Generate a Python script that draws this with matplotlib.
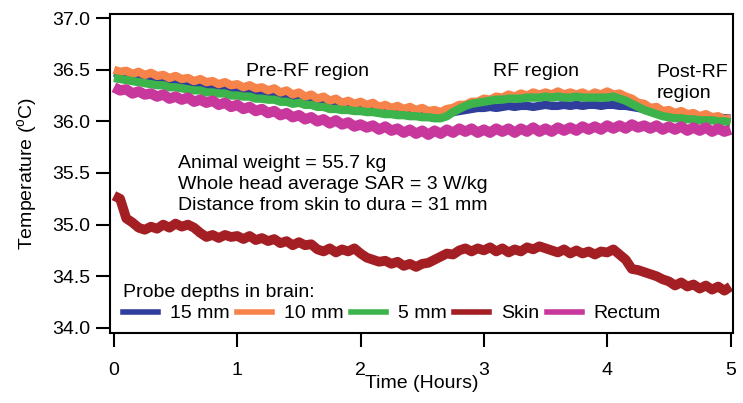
import numpy as np
import matplotlib
matplotlib.use("Agg")
import matplotlib.pyplot as plt

plt.rcParams['font.family'] = ['Liberation Sans', 'DejaVu Sans']
plt.rcParams['mathtext.fontset'] = 'custom'
plt.rcParams['mathtext.rm'] = 'Liberation Sans'
plt.rcParams['mathtext.it'] = 'Liberation Sans'
plt.rcParams['font.size'] = 14

# Time (hours), 0.05 h steps
time_h = [i * 0.05 for i in range(101)]

probe_15mm = [36.47, 36.46, 36.45, 36.45, 36.44, 36.43, 36.43, 36.41, 36.41, 36.40,
              36.40, 36.38, 36.38, 36.37, 36.37, 36.35, 36.35, 36.34, 36.34, 36.32,
              36.32, 36.31, 36.31, 36.29, 36.29, 36.28, 36.27, 36.26, 36.26, 36.24,
              36.24, 36.22, 36.22, 36.20, 36.20, 36.18, 36.18, 36.16, 36.16, 36.15,
              36.15, 36.14, 36.14, 36.12, 36.12, 36.11, 36.11, 36.10, 36.10, 36.09,
              36.09, 36.08, 36.07, 36.06, 36.07, 36.09, 36.10, 36.11, 36.12, 36.13,
              36.13, 36.14, 36.13, 36.14, 36.15, 36.14, 36.15, 36.15, 36.14, 36.15,
              36.16, 36.15, 36.15, 36.16, 36.15, 36.16, 36.15, 36.16, 36.16, 36.15,
              36.16, 36.16, 36.15, 36.15, 36.14, 36.13, 36.12, 36.11, 36.10, 36.09,
              36.08, 36.08, 36.07, 36.06, 36.06, 36.05, 36.05, 36.04, 36.04, 36.03,
              36.03]

probe_10mm = [36.50, 36.48, 36.49, 36.46, 36.48, 36.45, 36.47, 36.44, 36.45, 36.42,
              36.44, 36.41, 36.42, 36.39, 36.41, 36.38, 36.39, 36.36, 36.38, 36.35,
              36.36, 36.33, 36.35, 36.32, 36.33, 36.30, 36.32, 36.28, 36.30, 36.26,
              36.28, 36.24, 36.26, 36.22, 36.24, 36.20, 36.22, 36.18, 36.20, 36.17,
              36.19, 36.16, 36.18, 36.14, 36.16, 36.13, 36.15, 36.12, 36.14, 36.11,
              36.13, 36.10, 36.11, 36.09, 36.12, 36.13, 36.16, 36.16, 36.19, 36.19,
              36.22, 36.21, 36.24, 36.23, 36.26, 36.24, 36.27, 36.25, 36.28, 36.26,
              36.28, 36.26, 36.29, 36.26, 36.28, 36.26, 36.28, 36.25, 36.28, 36.26,
              36.29, 36.26, 36.27, 36.24, 36.22, 36.18, 36.17, 36.13, 36.14, 36.10,
              36.11, 36.08, 36.10, 36.07, 36.08, 36.05, 36.07, 36.04, 36.05, 36.02,
              36.03]

probe_5mm = [36.42, 36.41, 36.40, 36.39, 36.38, 36.37, 36.36, 36.35, 36.35, 36.33,
             36.33, 36.32, 36.31, 36.30, 36.30, 36.28, 36.28, 36.27, 36.27, 36.25,
             36.25, 36.24, 36.24, 36.22, 36.22, 36.21, 36.21, 36.19, 36.19, 36.17,
             36.18, 36.16, 36.16, 36.14, 36.14, 36.12, 36.12, 36.11, 36.11, 36.10,
             36.10, 36.09, 36.09, 36.08, 36.07, 36.07, 36.06, 36.06, 36.05, 36.05,
             36.04, 36.04, 36.03, 36.03, 36.05, 36.09, 36.12, 36.15, 36.17, 36.18,
             36.19, 36.20, 36.21, 36.21, 36.22, 36.22, 36.22, 36.23, 36.23, 36.23,
             36.24, 36.23, 36.24, 36.23, 36.23, 36.24, 36.23, 36.23, 36.23, 36.23,
             36.23, 36.24, 36.22, 36.20, 36.17, 36.14, 36.11, 36.09, 36.07, 36.05,
             36.04, 36.03, 36.03, 36.02, 36.02, 36.01, 36.01, 36.01, 36.00, 36.00,
             35.99]

skin = [35.28, 35.25, 35.06, 35.02, 34.97, 34.95, 34.98, 34.96, 35.00, 34.97,
        35.01, 34.98, 35.00, 34.97, 34.92, 34.88, 34.90, 34.87, 34.90, 34.88,
        34.89, 34.86, 34.89, 34.85, 34.87, 34.84, 34.86, 34.82, 34.84, 34.80,
        34.83, 34.80, 34.81, 34.76, 34.74, 34.77, 34.73, 34.76, 34.74, 34.77,
        34.72, 34.68, 34.66, 34.64, 34.65, 34.62, 34.64, 34.60, 34.62, 34.59,
        34.62, 34.63, 34.66, 34.69, 34.72, 34.71, 34.75, 34.77, 34.74, 34.77,
        34.75, 34.78, 34.74, 34.77, 34.73, 34.76, 34.74, 34.78, 34.76, 34.79,
        34.77, 34.75, 34.73, 34.76, 34.72, 34.75, 34.72, 34.74, 34.71, 34.74,
        34.73, 34.76, 34.71, 34.66, 34.57, 34.56, 34.54, 34.52, 34.50, 34.47,
        34.45, 34.41, 34.44, 34.40, 34.42, 34.38, 34.41, 34.37, 34.40, 34.36,
        34.40]

rectum = [36.33, 36.30, 36.31, 36.27, 36.29, 36.26, 36.27, 36.24, 36.26, 36.22,
          36.24, 36.21, 36.23, 36.19, 36.21, 36.18, 36.20, 36.16, 36.18, 36.14,
          36.16, 36.12, 36.14, 36.10, 36.12, 36.08, 36.10, 36.06, 36.08, 36.04,
          36.06, 36.02, 36.04, 36.00, 36.02, 35.98, 36.01, 35.97, 35.99, 35.95,
          35.97, 35.94, 35.96, 35.92, 35.95, 35.91, 35.93, 35.89, 35.92, 35.88,
          35.91, 35.87, 35.91, 35.88, 35.92, 35.89, 35.93, 35.90, 35.93, 35.89,
          35.92, 35.89, 35.93, 35.90, 35.93, 35.89, 35.93, 35.90, 35.94, 35.90,
          35.93, 35.90, 35.94, 35.91, 35.94, 35.91, 35.95, 35.92, 35.95, 35.92,
          35.96, 35.93, 35.96, 35.93, 35.97, 35.94, 35.96, 35.93, 35.96, 35.92,
          35.95, 35.92, 35.95, 35.91, 35.94, 35.91, 35.94, 35.90, 35.93, 35.90,
          35.92]

series_labels = ["15 mm", "10 mm", "5 mm", "Skin", "Rectum"]
series_colors = ["#2f3d9c", "#f5834a", "#3cb44b", "#a31f24", "#c8379c"]
series_values = [probe_15mm, probe_10mm, probe_5mm, skin, rectum]
series_widths = [6, 6, 6, 7, 7.5]

x_ticks = [0, 1, 2, 3, 4, 5]
y_ticks = [34.0, 34.5, 35.0, 35.5, 36.0, 36.5, 37.0]

fig = plt.figure(figsize=(7.43, 4.03), dpi=100)
ax = fig.add_axes([110/743, 1 - 333/403, 623/743, 319/403])

for vals, col, lab, lw in zip(series_values, series_colors, series_labels, series_widths):
    ax.plot(time_h, vals, color=col, lw=lw, label=lab, solid_joinstyle='round',
            solid_capstyle='butt')

ax.set_xlim(-0.032, 5.02)
ax.set_ylim(33.95, 37.04)
ax.set_xticks(x_ticks)
ax.set_xticklabels([str(v) for v in x_ticks])
ax.set_yticks(y_ticks)
ax.set_yticklabels([f"{v:.1f}" for v in y_ticks])
ax.tick_params(direction='out', length=10, width=1.5, pad=4, labelsize=14)
ax.tick_params(axis='x', pad=11)
for s in ax.spines.values():
    s.set_linewidth(1.5)

ax.set_xlabel("Time (Hours)", fontsize=14, labelpad=-3)
ax.set_ylabel("Temperature ($^{\\mathrm{o}}$C)", fontsize=14, labelpad=10)

ax.text(1.57, 36.48, "Pre-RF region", ha='center', va='center', fontsize=14)
ax.text(3.42, 36.48, "RF region", ha='center', va='center', fontsize=14)
ax.text(4.40, 36.37, "Post-RF\nregion", ha='left', va='center', fontsize=14, linespacing=1.3)
ax.text(0.52, 35.39, "Animal weight = 55.7 kg\nWhole head average SAR = 3 W/kg\nDistance from skin to dura = 31 mm",
        ha='left', va='center', fontsize=14, linespacing=1.3)

handles = [plt.Line2D([], [], color=c, lw=4) for c in series_colors]
leg = ax.legend(handles, series_labels, ncol=5, loc='lower left', bbox_to_anchor=(0.0145, 0.021),
                frameon=False, title="Probe depths in brain:", title_fontsize=14, fontsize=14,
                handlelength=1.8, handletextpad=0.6, columnspacing=0.4, borderpad=0.2,
                labelspacing=0.2, borderaxespad=0, alignment='left')

fig.savefig("out.png", dpi=100)
